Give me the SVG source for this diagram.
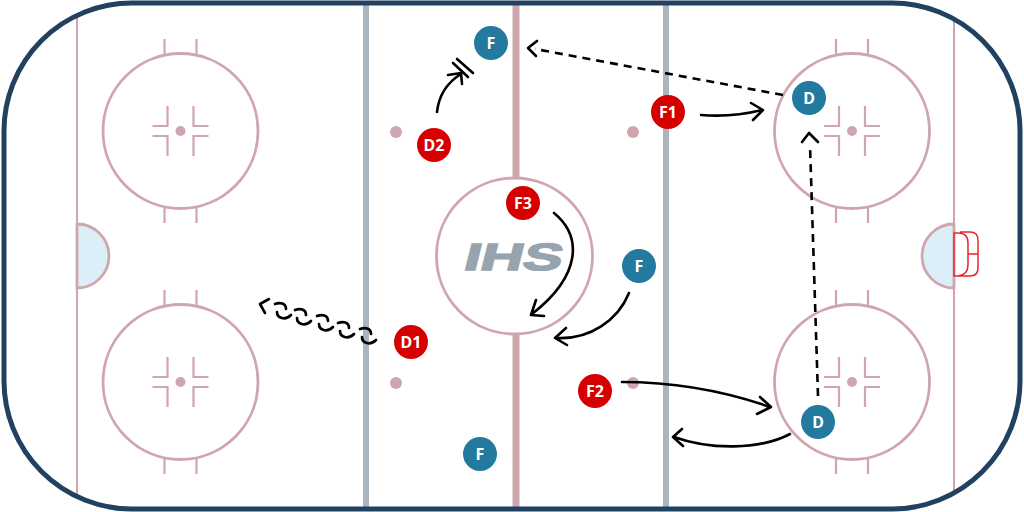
<svg xmlns="http://www.w3.org/2000/svg" xmlns:xlink="http://www.w3.org/1999/xlink" width="1024" height="512" viewBox="0 0 1024 512">
<style>
.m{fill:none;stroke:#d0a6ae;stroke-width:2.8}
.t{fill:none;stroke:#d0a6ae;stroke-width:2.2}
.d{fill:#d0a6ae}
.c{fill:none;stroke:#000;stroke-width:2.6;stroke-linecap:round;stroke-linejoin:round}
.dash{stroke-dasharray:8 6;stroke-linecap:butt}
.r{fill:#d70000}
.b{fill:#24799f}
.l{font-family:"Noto Sans","Open Sans",sans-serif;font-weight:700;font-size:16px;fill:#fff;text-anchor:middle}
</style>
<defs>
<g id="fc">
<circle class="m" r="77.5"/>
<circle class="d" r="5"/>
<path class="t" d="M-13,-25V-5H-28M-13,25V5H-28M13,-25V-5H28M13,25V5H28"/>
<path class="t" d="M-16,-77V-92M16,-77V-92M-16,77V92M16,77V92"/>
</g>
<path id="sq" class="c" style="stroke-width:2.7" d="M0,0C5,-2 11,-1 11,5M2,8C2,14 10,17 16,11"/>
</defs>
<rect width="1024" height="512" fill="#fff"/>
<g id="rink">
<path d="M77,224A32,32 0 0 1 77,288Z" fill="#dceff8" stroke="#d0a6ae" stroke-width="2.8"/>
<path d="M954,224A32,32 0 0 0 954,288Z" fill="#dceff8" stroke="#d0a6ae" stroke-width="2.8"/>
<path d="M77,18V494M954,18V494" fill="none" stroke="#d0a6ae" stroke-width="2"/>
<path d="M366,3V509M666,3V509" fill="none" stroke="#a9b6c2" stroke-width="6"/>
<path d="M516,3V177M516,335V509" fill="none" stroke="#d0a6ae" stroke-width="7"/>
<circle class="m" cx="514.5" cy="256" r="78"/>
<use xlink:href="#fc" href="#fc" x="180.500" y="131"/>
<use xlink:href="#fc" href="#fc" x="180.500" y="382"/>
<use xlink:href="#fc" href="#fc" x="852" y="131"/>
<use xlink:href="#fc" href="#fc" x="852" y="382"/>
<circle class="d" cx="396" cy="132" r="6"/>
<circle class="d" cx="633" cy="132" r="6"/>
<circle class="d" cx="396" cy="383" r="6"/>
<circle class="d" cx="633" cy="383" r="6"/>
<path d="M954,233H958Q968,233 968,243V265Q968,275 958,276H954ZM960,232H970Q978,232 978,240V268Q978,276 970,276H960M968,254H978" fill="none" stroke="#e8262a" stroke-width="1.5"/>
<rect x="4" y="3" width="1016" height="506" rx="128" ry="128" fill="none" stroke="#22405f" stroke-width="5"/>
<text transform="translate(511 270) skewX(-14)" font-family="'Liberation Sans',sans-serif" font-weight="700" font-size="38" fill="#97a3ae" stroke="#97a3ae" stroke-width="1.5" text-anchor="middle" textLength="98" lengthAdjust="spacingAndGlyphs">IHS</text>
</g>
<g id="connectors">
<path class="c" d="M437,112C439,94 448,82 461,74M448,75L461,73L462,84"/>
<path class="c" d="M453,63L468,77M457,59L473,73"/>
<path class="c dash" d="M783,95L535,49"/>
<path class="c" d="M537,41L528,48L536,56"/>
<path class="c" d="M701,115C725,117 742,115 762,110M751,103L763,110L753,120"/>
<path class="c dash" d="M818,396L810,145"/>
<path class="c" d="M802,142L809,133L818,142"/>
<path class="c" d="M554,213C582,236 582,275 532,314M536,300L531,315L544,316"/>
<path class="c" d="M629,293C618,320 590,340 556,338M566,328L555,338L567,345"/>
<path class="c" d="M622,382C680,382 730,393 770,407M760,397L771,407L757,414"/>
<path class="c" d="M790,434C760,450 710,450 674,437M682,429L673,437L683,446"/>
<path class="c" d="M269,299L260,304L265,313"/>
<use xlink:href="#sq" href="#sq" x="275" y="304"/>
<use xlink:href="#sq" href="#sq" x="295" y="310"/>
<use xlink:href="#sq" href="#sq" x="317" y="316"/>
<use xlink:href="#sq" href="#sq" x="338" y="323"/>
<use xlink:href="#sq" href="#sq" x="360" y="329"/>
</g>
<g id="n-f-top"><circle class="b" cx="491" cy="43" r="17"/><text class="l" x="491" y="48.500">F</text></g>
<g id="n-f-mid"><circle class="b" cx="639" cy="266" r="17"/><text class="l" x="639" y="271.500">F</text></g>
<g id="n-f-bot"><circle class="b" cx="480" cy="454" r="17"/><text class="l" x="480" y="459.500">F</text></g>
<g id="n-d-top"><circle class="b" cx="809" cy="98" r="17"/><text class="l" x="809" y="103.500">D</text></g>
<g id="n-d-bot"><circle class="b" cx="818" cy="422" r="17"/><text class="l" x="818" y="427.500">D</text></g>
<g id="n-d2"><circle class="r" cx="434" cy="145" r="17"/><text class="l" x="434" y="150.500">D2</text></g>
<g id="n-f1"><circle class="r" cx="668" cy="112" r="17"/><text class="l" x="668" y="117.500">F1</text></g>
<g id="n-f3"><circle class="r" cx="523" cy="203" r="17"/><text class="l" x="523" y="208.500">F3</text></g>
<g id="n-d1"><circle class="r" cx="411" cy="342" r="17"/><text class="l" x="411" y="347.500">D1</text></g>
<g id="n-f2"><circle class="r" cx="595" cy="391" r="17"/><text class="l" x="595" y="396.500">F2</text></g>
</svg>
